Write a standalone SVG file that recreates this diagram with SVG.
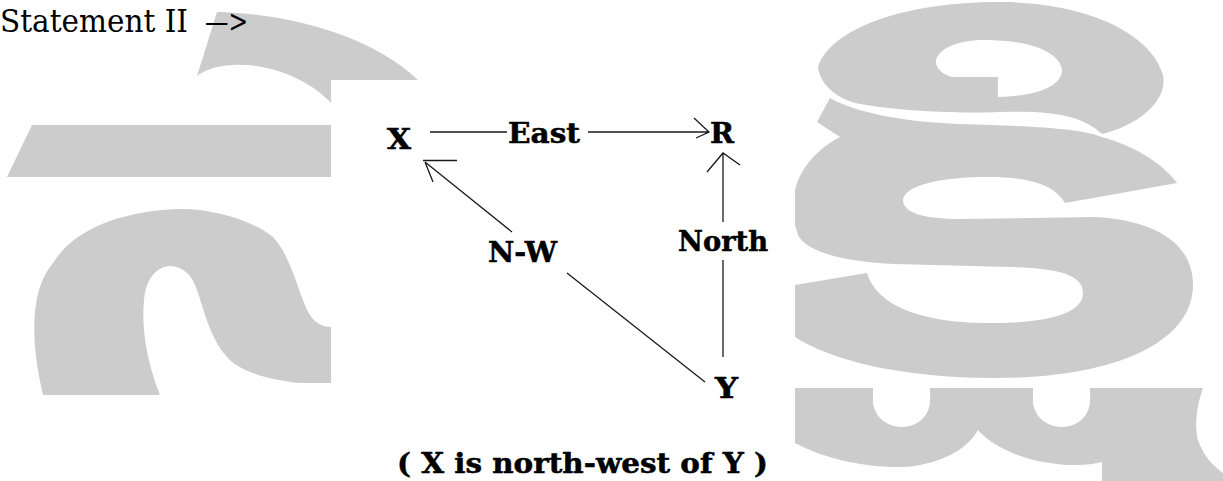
<svg xmlns="http://www.w3.org/2000/svg" width="1223" height="481" viewBox="0 0 1223 481">
<style>
.wm{fill:#cccccc;stroke:none}
.lbl{font-family:"DejaVu Serif","Liberation Serif",serif;font-weight:bold;font-size:27px;fill:#000;stroke:#000;stroke-width:0.5}
.ln{stroke:#1a1a1a;stroke-width:1.3;fill:none}
.hd{font-family:"DejaVu Serif","Liberation Serif",serif;font-size:31px;fill:#000}
</style>
<rect x="0" y="0" width="1223" height="481" fill="#ffffff"/>
<g id="watermark">
<path class="wm" d="M217,12 C290,14 370,35 418,80 L331,80 L331,103 C310,80 270,63 233,65 C215,66 205,70 197,76 Z"/>
<path class="wm" d="M32,125 L331,125 L331,177 L7,177 Z"/>
<path class="wm" d="M43,395 C30,340 30,290 53,263 C70,235 110,212 177,209 C215,208 255,222 273,237 C290,255 298,290 305,305 C310,318 318,327 331,327 L331,383 L300,383 C270,380 240,372 227,357 C210,338 204,310 197,290 C192,275 183,266 170,266 C155,267 146,280 144,300 C141,330 148,365 160,395 Z"/>
<path class="wm" fill-rule="evenodd" d="M818,67 C830,30 900,2 1000,2 C1080,2 1150,30 1163,75 C1168,100 1140,125 1102,134 C1085,118 1060,110 1000,112 C950,114 890,110 855,103 C832,96 820,82 818,67 Z M998,77 L952,77 C940,74 935,66 936,60 C940,47 960,40 985,40 C1030,40 1060,52 1062,70 C1062,85 1040,96 998,97 Z"/>
<path class="wm" d="M830,98 C852,111 900,122 960,124 C1030,126 1080,128 1102,137 C1130,145 1160,160 1177,183 L1065,203 C1055,185 1030,177 990,177 C940,177 905,185 903,200 C903,213 925,219 960,219 L1095,217 C1150,220 1193,240 1193,285 C1193,340 1120,378 995,378 C900,378 830,360 795,337 L795,285 L867,273 C875,300 910,323 990,323 C1050,323 1083,313 1083,293 C1083,275 1060,268 1010,267 L895,264 C840,262 805,250 798,235 L795,225 L795,190 C800,170 815,150 840,137 L817,122 Z"/>
<path class="wm" d="M795,388 L873,388 L873,403 C875,418 888,427 902,427 C916,427 928,418 930,403 L930,388 L1033,388 L1033,403 C1035,418 1048,427 1062,427 C1076,427 1088,418 1090,403 L1090,388 L1203,388 C1197,405 1194,425 1198,440 C1203,455 1212,465 1223,473 L1223,481 L1102,481 L1102,462 C1080,468 1040,465 1010,452 C995,445 985,438 978,430 C970,445 950,460 915,466 C880,470 830,462 795,443 Z"/>
</g>
<text id="heading" class="hd" x="0" y="32"><tspan x="0" textLength="188" lengthAdjust="spacingAndGlyphs">Statement II</tspan><tspan x="205" y="32" textLength="43" lengthAdjust="spacingAndGlyphs">—&gt;</tspan></text>
<rect id="figure-bg" x="331" y="80" width="464" height="401" fill="#ffffff"/>
<g id="connectors">
<path class="ln" d="M430,132 L507,132 M588,132 L709,132 M694,118 L709,132 L696,138"/>
<path class="ln" d="M723,357 L723,260 M723,222 L723,153 M707,172 L723,153 L740,165"/>
<path class="ln" d="M705,382 L567,273 M512,232 L425,162 M433,182 L425,162 M423,160.5 L457,160.5"/>
</g>
<g id="node-X"><text class="lbl" x="387" y="149" textLength="24" lengthAdjust="spacingAndGlyphs">X</text></g>
<g id="node-R"><text class="lbl" x="710" y="143" textLength="24" lengthAdjust="spacingAndGlyphs">R</text></g>
<g id="node-Y"><text class="lbl" x="715" y="398" textLength="23" lengthAdjust="spacingAndGlyphs">Y</text></g>
<g id="label-east"><text class="lbl" x="508" y="143" textLength="72" lengthAdjust="spacingAndGlyphs">East</text></g>
<g id="label-north"><text class="lbl" x="678" y="251" textLength="90" lengthAdjust="spacingAndGlyphs">North</text></g>
<g id="label-nw"><text class="lbl" x="488" y="262" textLength="69" lengthAdjust="spacingAndGlyphs">N-W</text></g>
<g id="caption"><text class="lbl" x="397" y="473" textLength="371" lengthAdjust="spacingAndGlyphs">( X is north-west of Y )</text></g>
</svg>
